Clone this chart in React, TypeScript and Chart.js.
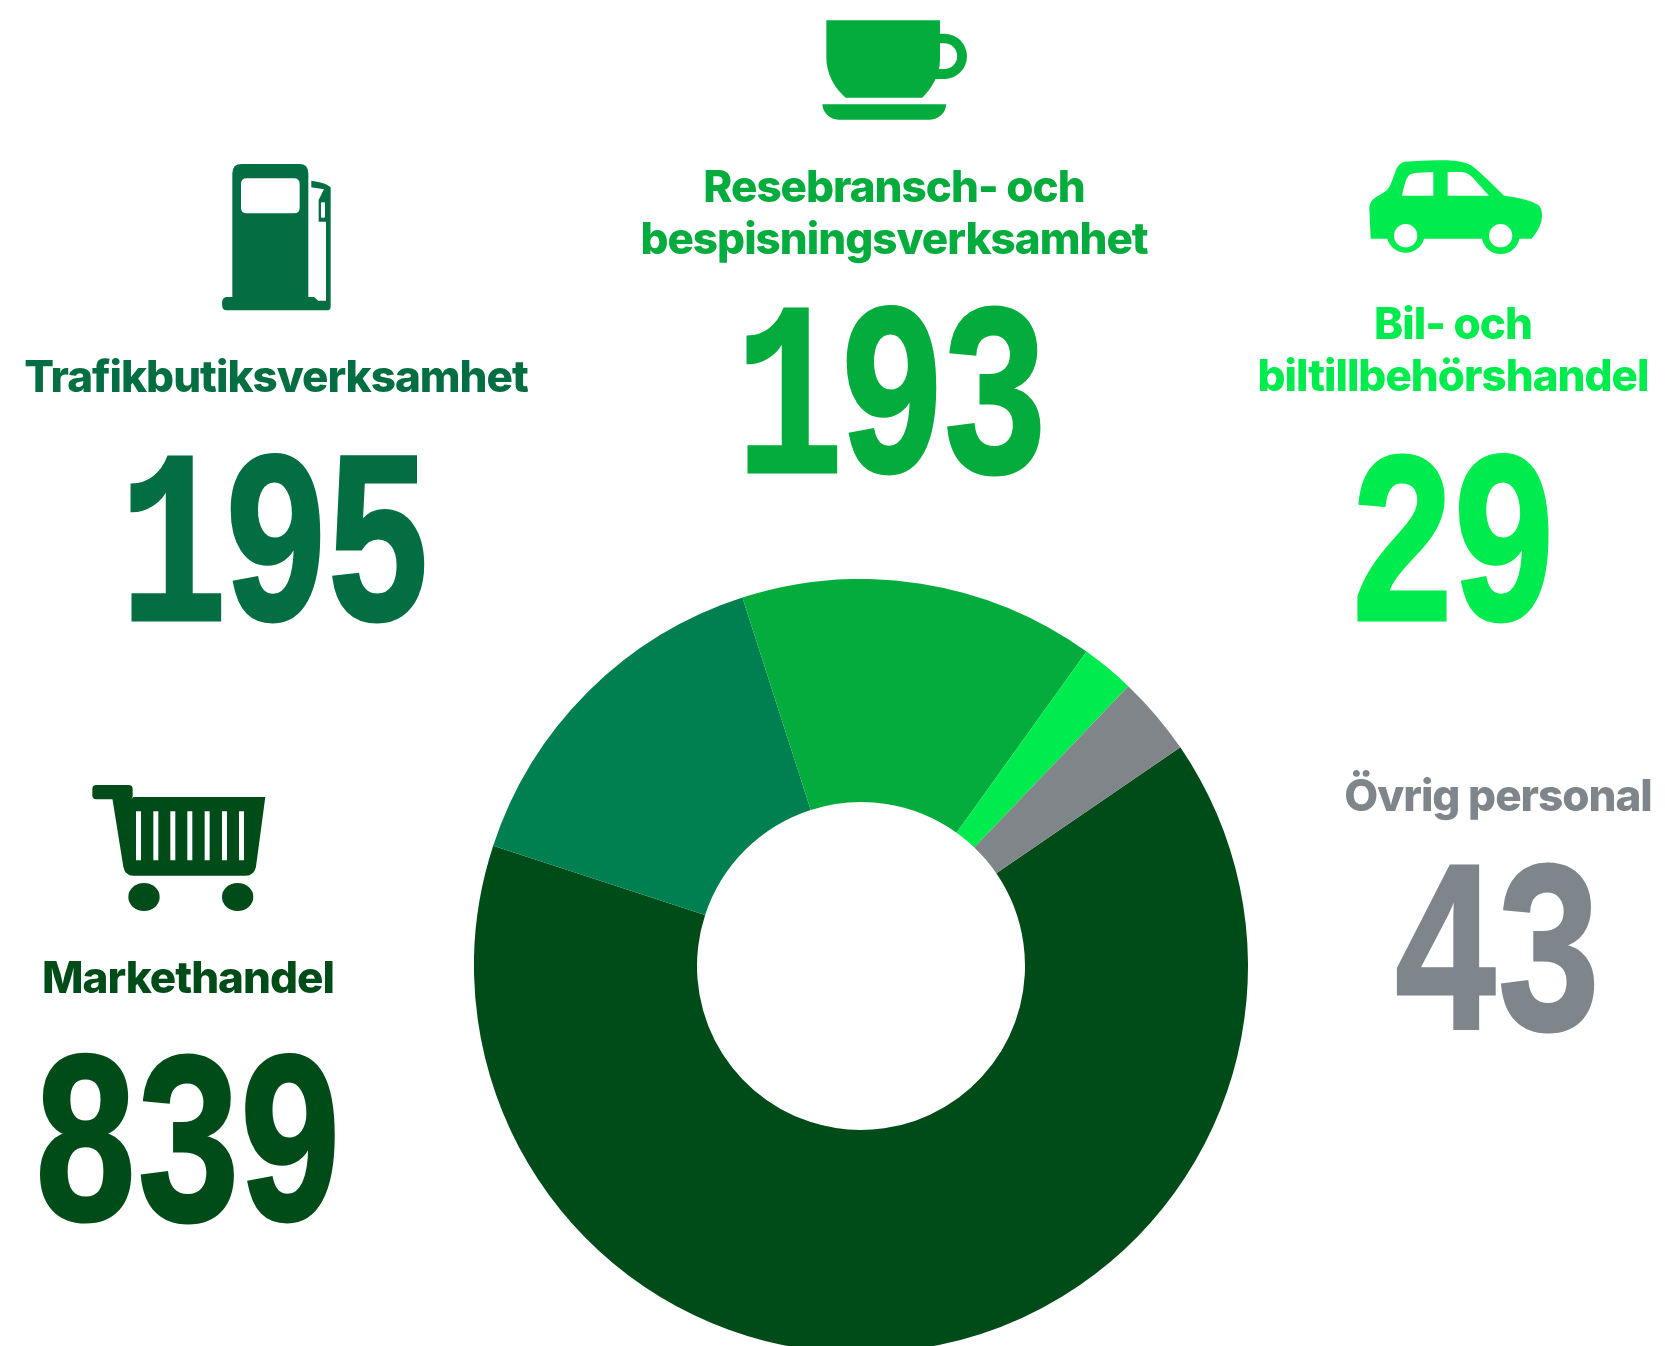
import React, { useEffect, useRef } from "react";
import { Chart, registerables } from "chart.js";

Chart.register(...registerables);

const categories = ["Markethandel", "Trafikbutiksverksamhet", "Resebransch- och bespisningsverksamhet", "Bil- och biltillbehörshandel", "Övrig personal"];
const values = [839, 195, 193, 29, 43];
const sliceColors = ["#004c19", "#008051", "#03ac3c", "#00ec4e", "#808589"];
const textColors = ["#004c19", "#036e42", "#03ac3c", "#00ec4e", "#7e858b"];
const labelLines = [["Markethandel"], ["Trafikbutiksverksamhet"], ["Resebransch- och", "bespisningsverksamhet"], ["Bil- och", "biltillbehörshandel"], ["Övrig personal"]];
// x centre, first label baseline, number baseline
const blockPlacement = [
  [188, 993, 1220],
  [276, 392, 620],
  [892, 202, 472],
  [1453, 339, 620],
  [1497, 811, 1029],
];

function Icons() {
  return (
    <>
      <g transform="translate(760,0) scale(0.3333)" fill={textColors[2]}>
        <path d="M199 61H540V180C540 225 515 265 487 293H257C225 265 199 225 199 170Z" />
        <path d="M535 101H553A68 68 0 0 1 553 237H522L535 207H553A38.500 38.500 0 0 0 553 130H540Z" />
        <path d="M187 313H559C557 340 535 359 510 359H236C210 359 189 340 187 313Z" />
      </g>
      <g transform="translate(200,150) scale(0.3333)" fill={textColors[1]}>
        <path fillRule="evenodd" d="M97 441V70Q97 42 125 42H298Q325 42 325 70V441H342L355 452H378V215H356V150L372 118L334 112V92C355 95 380 100 392 112V470Q392 481 380 481H80Q66 481 66 461Q66 441 80 441ZM140 85H282Q299 85 299 102V173Q299 190 282 190H140Q123 190 123 173V102Q123 85 140 85ZM366 157H372Q375 157 375 160V200Q375 203 372 203H366Q363 203 363 200V160Q363 157 366 157Z" />
      </g>
      <g transform="translate(1350,145) scale(0.3333)" fill={textColors[3]}>
        <path fillRule="evenodd" d="M62 281L58 190Q58 170 75 158L105 140Q118 130 125 110L140 70Q150 52 165 50Q230 44 290 46Q340 48 362 60Q385 75 462 152Q530 160 565 180Q577 190 576 215Q575 245 545 281H508A57 57 0 0 1 396 281H222A57 57 0 0 1 112 281ZM156 152Q165 105 175 93Q182 84 205 83L250 81V152ZM293 81H335Q355 82 370 100L417 152H293ZM132 272A35 35 0 1 0 202 272A35 35 0 1 0 132 272ZM417 272A35 35 0 1 0 487 272A35 35 0 1 0 417 272Z" />
      </g>
      <g transform="translate(80,770) scale(0.3333)" fill={textColors[0]}>
        <rect x="37" y="45" width="121" height="43" rx="12" />
        <path fillRule="evenodd" d="M97 85H158V81H556L528 290Q522 317 497 317H160Q135 317 130 290ZM168 124H183V271H168ZM220 124H235V271H220ZM271 124H286V271H271ZM322 124H337V271H322ZM374 124H389V271H374ZM426 124H441V271H426ZM477 124H492V271H477Z" />
        <ellipse cx="192" cy="381" rx="47" ry="42" />
        <ellipse cx="473" cy="381" rx="47" ry="42" />
      </g>
    </>
  );
}

export default function App() {
  const ref = useRef<HTMLCanvasElement | null>(null);
  useEffect(() => {
    document.body.style.margin = "0";
    const chart = new Chart(ref.current as HTMLCanvasElement, {
      type: "doughnut",
      data: {
        labels: categories,
        datasets: [{ data: values, backgroundColor: sliceColors, borderWidth: 0 }],
      },
      options: {
        responsive: false,
        animation: false,
        rotation: 55.6,
        cutout: 164,
        layout: { padding: 0 },
        plugins: { legend: { display: false }, tooltip: { enabled: false } },
      },
    });
    return () => chart.destroy();
  }, []);
  return (
    <div style={{ position: "absolute", left: 0, top: 0, width: 1665, height: 1346, overflow: "hidden", background: "#fff" }}>
      <canvas ref={ref} width={774} height={774} style={{ position: "absolute", left: 474, top: 579, width: 774, height: 774 }} />
      <svg width={1665} height={1346} viewBox="0 0 1665 1346" style={{ position: "absolute", left: 0, top: 0 }}>
        <Icons />
        {categories.map((c, i) => {
          const [x, labelY, numY] = blockPlacement[i];
          const labelX = i === 2 ? x + 2 : i === 4 ? x + 1 : x;
          return (
            <g key={c} fill={textColors[i]} textAnchor="middle">
              {labelLines[i].map((line, j) => (
                <text key={line} x={labelX} y={labelY + j * 52} style={{ fontFamily: "Inter", fontWeight: 800, fontSize: 44, letterSpacing: -1 }}>
                  {line}
                </text>
              ))}
              <text transform={`translate(${x - 3},${numY}) scale(0.73,1)`} stroke={textColors[i]} strokeWidth={3} style={{ fontFamily: "Liberation Mono", fontWeight: 700, fontSize: 247, letterSpacing: -8 }}>
                {values[i]}
              </text>
            </g>
          );
        })}
      </svg>
    </div>
  );
}
